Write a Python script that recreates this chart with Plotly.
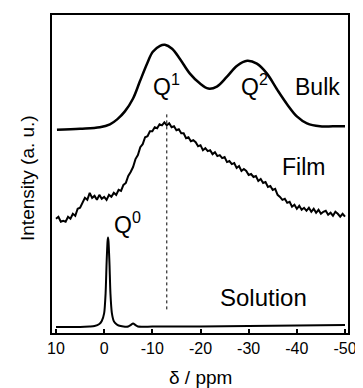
import plotly.graph_objects as go

# Bulk spectrum (offset intensity)
bulk_ppm = [9.8, 5.0, 0.9, -1.2, -2.7, -4.3, -6.0, -7.4, -8.9, -10.1, -11.6, -12.6, -14.1, -15.7,
            -17.8, -19.9, -21.6, -23.4, -25.5, -27.6, -29.7, -31.7, -33.8, -35.9, -38.0, -40.0,
            -42.1, -44.8, -47.5, -50.0]
bulk_int = [204.5, 205.5, 207, 210, 215, 223, 236, 253, 271, 283, 289, 290, 286, 276,
            261, 251, 246, 248, 258, 269, 274, 271, 261, 245, 230, 218,
            211, 208, 208, 208]

# Film spectrum (offset intensity), 0.5 ppm steps from 10 to -50
film_ppm = [10 - 0.5 * i for i in range(121)]
film_int = [115, 117, 112, 113, 112, 117, 115, 120, 118, 125,
            126, 132, 136, 134, 141, 136, 138, 134, 139, 135,
            137, 134, 139, 137, 141, 139, 144, 143, 149, 151,
            158, 162, 167, 175, 179, 187, 190, 197, 198, 203,
            203, 207, 206, 210, 209, 212, 209, 211, 207, 208,
            204, 205, 201, 201, 196, 197, 193, 194, 192, 188,
            189, 184, 186, 183, 184, 180, 182, 178, 179, 176,
            177, 172, 173, 170, 171, 166, 168, 163, 165, 163,
            159, 160, 157, 158, 153, 155, 151, 152, 147, 148,
            144, 145, 139, 137, 134, 135, 131, 132, 127, 129,
            125, 128, 124, 126, 123, 126, 122, 125, 121, 124,
            120, 122, 123, 119, 121, 118, 122, 120, 117, 120,
            117]

# Solution spectrum
sol_ppm = [10, 5, 3, 2, 1, 0.5, 0, -0.3, -0.5, -0.7, -0.8, -0.9, -1.1, -1.3, -1.6, -2, -2.5, -3,
           -4, -5, -5.5, -6, -6.5, -7, -10, -20, -30, -40, -50]
sol_int = [6, 6, 6.5, 7, 9, 12, 20, 40, 70, 92, 96, 92, 70, 40, 20, 12, 9, 7.5,
           6.5, 6.5, 8, 9.5, 8, 6.5, 6.5, 6.5, 7, 7.5, 8]

x_ticks = [10, 0, -10, -20, -30, -40, -50]
q1_pos = -13.0

FONT = "Liberation Sans, Arial, sans-serif"

fig = go.Figure()
fig.add_trace(go.Scatter(x=bulk_ppm, y=bulk_int, mode="lines",
                         line=dict(color="black", width=2.5, shape="spline", smoothing=1.0)))
fig.add_trace(go.Scatter(x=film_ppm, y=film_int, mode="lines",
                         line=dict(color="black", width=2)))
fig.add_trace(go.Scatter(x=sol_ppm, y=sol_int, mode="lines",
                         line=dict(color="black", width=2, shape="spline", smoothing=0.6)))
fig.add_trace(go.Scatter(x=[q1_pos, q1_pos], y=[220, 23], mode="lines",
                         line=dict(color="black", width=1, dash="3px,3px")))

ann = [
    dict(x=-13.0, y=250, text="Q<sup>1</sup>", size=23),
    dict(x=-31.3, y=250, text="Q<sup>2</sup>", size=23),
    dict(x=-44.2, y=248, text="Bulk", size=23),
    dict(x=-41.3, y=167, text="Film", size=23),
    dict(x=-4.9, y=111, text="Q<sup>0</sup>", size=23),
    dict(x=-33.0, y=36, text="Solution", size=24),
]
for a in ann:
    fig.add_annotation(x=a["x"], y=a["y"], text=a["text"], showarrow=False,
                       font=dict(family=FONT, size=a["size"], color="black"),
                       xanchor="center", yanchor="middle")

fig.add_annotation(x=0, y=0.4875, xref="paper", yref="paper", xshift=-24,
                   text="Intensity (a. u.)", textangle=-90, showarrow=False,
                   font=dict(family=FONT, size=19, color="black"),
                   xanchor="center", yanchor="middle")
fig.add_annotation(x=0.5, y=0, xref="paper", yref="paper", yshift=-44,
                   text="δ / ppm", showarrow=False,
                   font=dict(family=FONT, size=19, color="black"),
                   xanchor="center", yanchor="middle")

fig.update_layout(
    width=355, height=380,
    margin=dict(l=44, r=15, t=5, b=55),
    paper_bgcolor="white", plot_bgcolor="white",
    showlegend=False,
    font=dict(family=FONT, color="black"),
)
fig.update_xaxes(range=[10.83, -50.62], tickvals=x_ticks, ticktext=[str(v) for v in x_ticks],
                 ticks="inside", ticklen=4, tickwidth=1.5, tickcolor="black",
                 showline=True, linecolor="black", linewidth=2, mirror=True,
                 showgrid=False, zeroline=False,
                 tickfont=dict(family=FONT, size=16, color="black"))
fig.update_yaxes(range=[0, 320], showticklabels=False, ticks="",
                 showline=True, linecolor="black", linewidth=2, mirror=True,
                 showgrid=False, zeroline=False)

fig.write_html("out.html")
